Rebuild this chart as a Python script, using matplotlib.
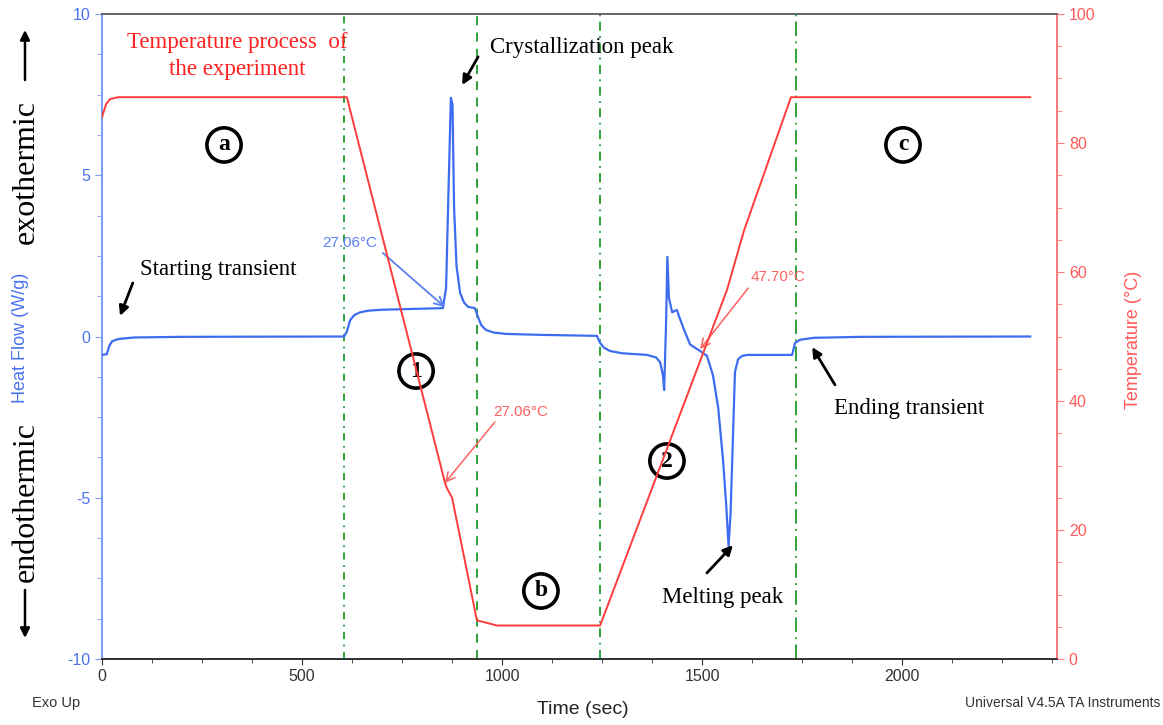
import matplotlib
matplotlib.use("Agg")
import matplotlib.pyplot as plt
from matplotlib.ticker import MultipleLocator

plt.rcParams['axes.unicode_minus'] = False
SANS = ['Liberation Sans', 'DejaVu Sans']
SERIF = ['Liberation Serif', 'DejaVu Serif']

# ---------------- data ----------------
# Heat flow (W/g) vs time (sec)
hf_time = [0, 12, 18, 25, 40, 80, 200, 605, 612, 620, 630, 645, 665, 700, 760,
           852, 860, 866, 872, 876, 880, 886, 895, 905, 915, 932, 940, 948, 960,
           980, 1010, 1100, 1237, 1245, 1255, 1270, 1300, 1362, 1385, 1395, 1402,
           1405, 1410, 1413, 1417, 1425, 1432, 1437, 1443, 1455, 1470, 1495, 1512,
           1527, 1540, 1552, 1560, 1566, 1571, 1576, 1582, 1590, 1600, 1615, 1725,
           1732, 1745, 1780, 1900, 2320]
hf_value = [-0.57, -0.55, -0.3, -0.15, -0.08, -0.03, -0.01, 0.0, 0.15, 0.5, 0.66,
            0.75, 0.8, 0.83, 0.85, 0.88, 1.5, 4.5, 7.4, 7.2, 4.0, 2.2, 1.35, 1.05,
            0.92, 0.88, 0.6, 0.35, 0.2, 0.12, 0.08, 0.05, 0.02, -0.2, -0.35, -0.45,
            -0.52, -0.57, -0.65, -0.8, -1.2, -1.66, 0.5, 2.47, 1.2, 0.75, 0.8, 0.82,
            0.6, 0.2, -0.25, -0.45, -0.6, -1.2, -2.2, -3.8, -5.2, -6.5, -5.5, -3.5,
            -1.1, -0.7, -0.6, -0.57, -0.57, -0.2, -0.1, -0.04, -0.01, 0.0]

# Temperature (°C) vs time (sec)
temp_time = [0, 10, 20, 40, 612, 857, 862, 875, 937, 987, 1245, 1562, 1605, 1722, 1740, 2320]
temp_value = [84.0, 86.0, 86.8, 87.1, 87.1, 27.4, 26.5, 25.0, 6.0, 5.2, 5.2, 57.2, 66.5, 87.1, 87.1, 87.1]

# stage boundaries (sec)
stage_times = [605, 937, 1245, 1735]
stage_styles = [(0, (4, 3, 1, 3)), (0, (5, 4)), (0, (5, 3, 1, 3)), (0, (8, 3, 1, 3))]

x_ticks = [0, 500, 1000, 1500, 2000]
hf_ticks = [-10, -5, 0, 5, 10]
temp_ticks = [0, 20, 40, 60, 80, 100]

BLUE = '#3d6cf0'
RED = '#ff3b3b'
GREEN = '#1f9a2a'

# ---------------- figure ----------------
fig = plt.figure(figsize=(11.63, 7.25), dpi=100)
ax = fig.add_axes([0.0877, 0.0910, 0.8212, 0.8897])
ax2 = ax.twinx()

for t, ls in zip(stage_times, stage_styles):
    ax.axvline(t, color=GREEN, lw=1.3, linestyle=ls, zorder=1)

ax.plot(hf_time, hf_value, color=BLUE, lw=1.6, zorder=3)
ax2.plot(temp_time, temp_value, color=RED, lw=1.4, zorder=3)

ax.set_xlim(0, 2387)
ax.set_ylim(-10, 10)
ax2.set_ylim(0, 100)

ax.set_xticks(x_ticks)
ax.set_yticks(hf_ticks)
ax2.set_yticks(temp_ticks)
ax.xaxis.set_minor_locator(MultipleLocator(125))
ax.yaxis.set_minor_locator(MultipleLocator(1.25))
ax2.yaxis.set_minor_locator(MultipleLocator(5))

ax.tick_params(axis='x', which='both', direction='out', colors='#333333', labelsize=11.5, length=4)
ax.tick_params(axis='x', which='minor', length=3)
ax.tick_params(axis='y', which='both', direction='out', colors='#7f9cf5', labelcolor='#4a72f0',
               labelsize=11.5, length=5)
ax.tick_params(axis='y', which='minor', length=3.5)
ax2.tick_params(axis='y', which='both', direction='out', colors='#ff7a7a', labelcolor='#ff5a5a',
                labelsize=11.5, length=5)
ax2.tick_params(axis='y', which='minor', length=3.5)
for lab in ax.get_xticklabels() + ax.get_yticklabels() + ax2.get_yticklabels():
    lab.set_family(SANS)

ax.spines['left'].set_color('#7f9cf5')
ax.spines['left'].set_linewidth(1.5)
ax2.spines['left'].set_visible(False)
ax2.spines['right'].set_color('#ff7a7a')
ax2.spines['right'].set_linewidth(1.5)
ax.spines['right'].set_visible(False)
for a in (ax, ax2):
    a.spines['top'].set_color('#666666')
    a.spines['bottom'].set_color('#333333')
    a.spines['top'].set_linewidth(1.3)
    a.spines['bottom'].set_linewidth(1.3)

ax2.set_zorder(ax.get_zorder() + 1)
ax2.patch.set_visible(False)

# ---------------- annotations ----------------
ax.text(337, 8.7, 'Temperature process  of\nthe experiment', color='#ff2020', fontsize=16.5,
        family=SERIF, ha='center', va='center', linespacing=1.35)

circ = dict(boxstyle='circle,pad=0.28', fc='none', ec='black', lw=2.6)
for lbl, tx, ty in [('a', 305, 5.94), ('b', 1097, -7.89), ('c', 2002, 5.94),
                    ('1', 785, -1.07), ('2', 1412, -3.86)]:
    ax.text(tx, ty, lbl, fontsize=17, fontweight='bold', family=SERIF, ha='center', va='center',
            bbox=circ, zorder=5)

black_arrow = dict(arrowstyle='-|>', color='black', lw=2.0, mutation_scale=14,
                   shrinkA=0, shrinkB=0)
ax.text(970, 8.95, 'Crystallization peak', fontsize=16.5, family=SERIF, ha='left', va='center')
ax.annotate('', xy=(900, 7.8), xytext=(940, 8.67), arrowprops=black_arrow)

ax.text(95, 2.09, 'Starting transient', fontsize=16.5, family=SERIF, ha='left', va='center')
ax.annotate('', xy=(45, 0.64), xytext=(77, 1.66), arrowprops=black_arrow)

ax.text(1830, -2.22, 'Ending transient', fontsize=16.5, family=SERIF, ha='left', va='center')
ax.annotate('', xy=(1775, -0.33), xytext=(1832, -1.5), arrowprops=black_arrow)

ax.text(1400, -8.1, 'Melting peak', fontsize=16.5, family=SERIF, ha='left', va='center')
ax.annotate('', xy=(1577, -6.47), xytext=(1512, -7.33), arrowprops=black_arrow)

ax.text(550, 2.9, '27.06°C', fontsize=11, family=SANS, color='#5a80f2', ha='left', va='center')
ax.annotate('', xy=(857, 0.91), xytext=(702, 2.59),
            arrowprops=dict(arrowstyle='->', color='#5a80f2', lw=1.3, mutation_scale=16,
                            shrinkA=0, shrinkB=0))

ax.text(977, -2.34, '27.06°C', fontsize=11, family=SANS, color='#ff6060', ha='left', va='center')
ax.annotate('', xy=(857, -4.54), xytext=(982, -2.65),
            arrowprops=dict(arrowstyle='->', color='#ff6060', lw=1.1, mutation_scale=16,
                            shrinkA=0, shrinkB=0))

ax.text(1620, 1.84, '47.70°C', fontsize=11, family=SANS, color='#ff6060', ha='left', va='center')
ax.annotate('', xy=(1495, -0.39), xytext=(1615, 1.5),
            arrowprops=dict(arrowstyle='->', color='#ff6060', lw=1.1, mutation_scale=16,
                            shrinkA=0, shrinkB=0))

# ---------------- side / bottom labels ----------------
W, H = 1163.0, 725.0
def fx(px):
    return px / W
def fy(py):
    return 1 - py / H

fig.text(fx(26), fy(172), 'exothermic', rotation=90, fontsize=23, family=SERIF,
         ha='center', va='center')
fig.text(fx(26), fy(502), 'endothermic', rotation=90, fontsize=23, family=SERIF,
         ha='center', va='center')
fig.text(fx(21), fy(338), 'Heat Flow (W/g)', rotation=90, fontsize=13, family=SANS,
         color='#4a72f0', ha='center', va='center')
fig_arrow = dict(arrowstyle='-|>', color='black', lw=1.8, mutation_scale=14, shrinkA=0, shrinkB=0)
ax.annotate('', xy=(fx(25), fy(30)), xytext=(fx(25), fy(80)), xycoords='figure fraction',
            textcoords='figure fraction', arrowprops=fig_arrow)
ax.annotate('', xy=(fx(25), fy(638)), xytext=(fx(25), fy(590)), xycoords='figure fraction',
            textcoords='figure fraction', arrowprops=fig_arrow)

fig.text(fx(1133), fy(340), 'Temperature (°C)', rotation=90, fontsize=13, family=SANS,
         color='#ff5a5a', ha='center', va='center')
fig.text(fx(583), fy(709), 'Time (sec)', fontsize=14, family=SANS, color='#222222',
         ha='center', va='center')
fig.text(fx(32), fy(703), 'Exo Up', fontsize=10.5, family=SANS, color='#333333',
         ha='left', va='center')
fig.text(fx(1160), fy(703), 'Universal V4.5A TA Instruments', fontsize=10, family=SANS,
         color='#333333', ha='right', va='center')

fig.savefig('out.png', dpi=100)
